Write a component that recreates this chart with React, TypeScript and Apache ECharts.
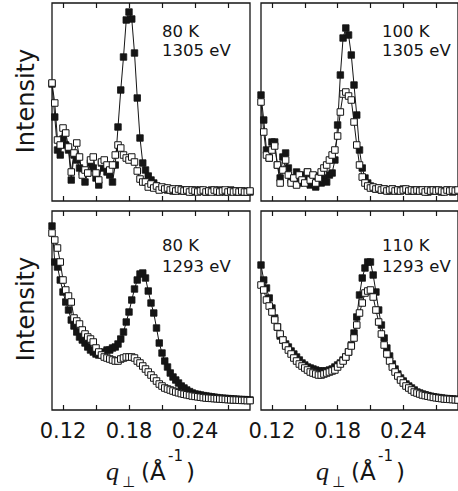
import React, { useEffect, useRef } from "react";
import * as echarts from "echarts";

// momentum transfer q_perp (1/Å), shared by all panels
const q = [
  0.11, 0.1125, 0.115, 0.1175, 0.12, 0.1225, 0.125, 0.1275, 0.13, 0.1325,
  0.135, 0.1375, 0.14, 0.1425, 0.145, 0.1475, 0.15, 0.1525, 0.155, 0.1575,
  0.16, 0.1625, 0.165, 0.1675, 0.17, 0.1725, 0.175, 0.1775, 0.18, 0.1825,
  0.185, 0.1875, 0.19, 0.1925, 0.195, 0.1975, 0.2, 0.2025, 0.205, 0.2075,
  0.21, 0.2125, 0.215, 0.2175, 0.22, 0.2225, 0.225, 0.2275, 0.23, 0.2325,
  0.235, 0.2375, 0.24, 0.2425, 0.245, 0.2475, 0.25, 0.2525, 0.255, 0.2575,
  0.26, 0.2625, 0.265, 0.2675, 0.27, 0.2725, 0.275, 0.2775, 0.28, 0.2825,
  0.285, 0.2875, 0.29,
];

// 80 K, 1305 eV
const k80e1305Filled = [
  58.5, 42, 25.5, 23, 31, 28, 25.5, 10.5, 23, 20.5,
  16.5, 14.5, 9.5, 14, 19, 16.5, 11.5, 8, 19, 16.5,
  14.5, 13, 9.5, 18, 37, 55.5, 72, 90.5, 94.5, 91,
  74, 51.5, 31.5, 19, 15.5, 12.5, 10.5, 9, 7.5, 6.5,
  6, 6.5, 5.5, 6, 5, 5.5, 6, 5, 5.5, 5,
  5.5, 4.5, 5.5, 5, 5.5, 5, 4.5, 5, 5.5, 5,
  4.5, 5.5, 5, 4.5, 5, 5.5, 5, 4.5, 5, 4.5,
  5, 4.5, 4.5,
];
const k80e1305Open = [
  59, 49, 30.5, 28, 36.5, 34, 27, 14.5, 24, 29,
  22, 13, 15.5, 14, 20.5, 22, 14, 10.5, 19.5, 20.5,
  18, 15.5, 18, 23, 28, 26.5, 23, 21.5, 20.5, 22,
  19.5, 15, 11, 9.5, 9.5, 7, 8.5, 6.5, 7.5, 5.5,
  7, 6, 6.5, 5.5, 6, 5, 6, 5.5, 5, 5.5,
  4.5, 5.5, 5, 4.5, 5, 5.5, 4.5, 5, 4.5, 5.5,
  5, 4.5, 5, 5.5, 4.5, 5, 4.5, 5, 4.5, 5,
  4.5, 4.5, 5,
];

// 100 K, 1305 eV
const k100e1305Filled = [
  53, 40.5, 25.5, 21.5, 29.5, 29.5, 18, 11.5, 22, 24,
  16.5, 10.5, 11.5, 14.5, 9, 13, 10.5, 14.5, 8, 10.5,
  7, 12.5, 9, 11.5, 9.5, 13, 14, 20.5, 38, 63,
  81.5, 86.5, 83, 73, 58, 43, 25.5, 16.5, 11.5, 9,
  7.5, 6.5, 6, 6.5, 5.5, 6, 5.5, 5, 6, 5.5,
  5, 5.5, 6, 5.5, 5, 5.5, 5, 5.5, 5, 5.5,
  5, 4.5, 5.5, 5, 5.5, 5, 4.5, 5, 5.5, 5,
  4.5, 5, 5,
];
const k100e1305Open = [
  49.5, 34.5, 23, 21.5, 25.5, 27.5, 18, 9, 15.5, 20.5,
  13, 9, 11.5, 8, 13, 10.5, 9, 14.5, 10.5, 13,
  9, 11.5, 14.5, 16.5, 18, 20.5, 23, 25.5, 32.5, 44.5,
  53.5, 54.5, 52.5, 50.5, 39.5, 28, 18, 12, 9, 7.5,
  6.5, 7, 6, 6.5, 5.5, 6, 5, 5.5, 6, 5,
  5.5, 5, 5.5, 6, 5, 5.5, 5, 5.5, 5, 5.5,
  4.5, 5.5, 5, 5.5, 5, 5.5, 5, 4.5, 5.5, 5,
  5.5, 5, 5.5,
];

// 80 K, 1293 eV
const k80e1293Filled = [
  92, 74, 71.5, 65, 59, 54, 50, 45, 42, 39,
  36.5, 35, 33.5, 31.5, 30, 29, 28, 27.5, 28.5, 29,
  30, 30, 31, 31.5, 33, 35.5, 39, 44, 49, 55,
  60.5, 65, 68, 68.5, 66, 59.5, 53.5, 48.5, 41, 33.5,
  28.5, 24.5, 21.5, 18.5, 16.5, 15, 13.5, 12, 11, 10,
  9.2, 8.5, 8, 7.8, 7.5, 7.2, 7, 6.8, 6.6, 6.4,
  6.2, 6, 5.9, 5.8, 5.7, 5.6, 5.5, 5.4, 5.3, 5.2,
  5.2, 5.1, 5,
];
const k80e1293Open = [
  88.5, 85, 81, 74, 65, 60, 57, 54, 46, 44.5,
  43, 40, 38, 36.5, 35.5, 34, 31, 29, 27.5, 26.5,
  26, 25.5, 25, 24.5, 24.5, 25.5, 26, 26.5, 26.5, 26.5,
  26, 24.5, 23.5, 22, 20.5, 19, 17.5, 16, 14.5, 13,
  12, 11, 10.5, 10, 9.5, 9, 8.6, 8.2, 7.9, 7.6,
  7.3, 7, 6.8, 6.6, 6.4, 6.2, 6, 5.9, 5.8, 5.7,
  5.6, 5.5, 5.4, 5.3, 5.2, 5.1, 5, 5, 4.9, 4.8,
  4.8, 4.7, 4.7,
];

// 110 K, 1293 eV
const k110e1293Filled = [
  72.5, 65, 61, 56, 51, 46, 41.5, 37, 35, 33,
  31.5, 29.5, 28, 26.5, 25, 23.5, 22.5, 21.5, 21, 20.5,
  20, 19.5, 19.5, 19.5, 19.5, 20, 20.5, 21.5, 22.5, 23.5,
  25, 26.5, 29, 32.5, 38.5, 46.5, 57.5, 66, 71, 74,
  74, 67.5, 59, 50, 42.5, 36, 31, 27, 23, 20.5,
  18, 16, 14.5, 13, 12, 11, 10, 9, 8.5, 8,
  7.6, 7.2, 6.9, 6.6, 6.4, 6.2, 6, 5.8, 5.7, 5.6,
  5.5, 5.4, 5.3,
];
const k110e1293Open = [
  62.5, 60, 55, 52, 49, 45, 41.5, 38, 35, 32,
  30, 28, 26, 24.5, 23, 22, 21, 20, 19, 18.5,
  18, 17.5, 17.5, 18, 18.5, 19, 19.5, 20, 21.5, 23,
  24.5, 26.5, 29, 32, 36, 42.5, 48.5, 53.5, 58.5, 59.5,
  60, 56.5, 50, 44, 38, 32.5, 28, 24.5, 21.5, 19,
  17, 15, 13.5, 12, 11, 10, 9, 8.5, 8, 7.5,
  7.2, 6.9, 6.6, 6.3, 6.1, 5.9, 5.7, 5.5, 5.4, 5.3,
  5.2, 5.1, 5,
];

const tickValues = [0.12, 0.15, 0.18, 0.21, 0.24, 0.27];
const labelValues = [0.12, 0.18, 0.24];

const panels = [
  { t: "80 K", e: "1305 eV", filled: k80e1305Filled, open: k80e1305Open, left: 52, top: 3, width: 198, height: 198, ymax: 99, labels: false },
  { t: "100 K", e: "1305 eV", filled: k100e1305Filled, open: k100e1305Open, left: 261, top: 3, width: 199, height: 198, ymax: 99, labels: false },
  { t: "80 K", e: "1293 eV", filled: k80e1293Filled, open: k80e1293Open, left: 52, top: 211, width: 198, height: 199, ymax: 99.5, labels: true },
  { t: "110 K", e: "1293 eV", filled: k110e1293Filled, open: k110e1293Open, left: 261, top: 211, width: 199, height: 199, ymax: 99.5, labels: true },
];

const SANS = '"DejaVu Sans", sans-serif';
const INK = "#151515";

function buildOption() {
  const grid: any[] = [];
  const xAxis: any[] = [];
  const yAxis: any[] = [];
  const series: any[] = [];
  const graphic: any[] = [];

  panels.forEach((p, i) => {
    grid.push({
      left: p.left, top: p.top, width: p.width, height: p.height,
      show: true, borderColor: INK, borderWidth: 1.3, backgroundColor: "transparent",
    });
    const baseX = {
      type: "value", gridIndex: i, min: 0.11, max: 0.29,
      axisLine: { show: false }, splitLine: { show: false },
      axisTick: { show: true, inside: true, length: 5, customValues: tickValues, lineStyle: { color: INK, width: 1.2 } },
    };
    xAxis.push({
      ...baseX, position: "bottom",
      axisLabel: {
        show: p.labels, customValues: labelValues, margin: 21, verticalAlign: "middle",
        color: INK, fontSize: 21, fontFamily: SANS,
        formatter: (v: number) => v.toFixed(2),
      },
    });
    xAxis.push({ ...baseX, position: "top", axisLabel: { show: false } });
    yAxis.push({
      type: "value", gridIndex: i, min: 0, max: p.ymax,
      axisLine: { show: false }, axisTick: { show: false }, axisLabel: { show: false }, splitLine: { show: false },
    });
    const lineBase = {
      type: "line", xAxisIndex: i * 2, yAxisIndex: i, symbol: "rect", symbolSize: 6.5,
      lineStyle: { color: INK, width: 1 }, clip: true, z: 2,
    };
    series.push({
      ...lineBase, name: p.t + " " + p.e + " filled",
      data: q.map((x, k) => [x, p.filled[k]]),
      itemStyle: { color: INK, borderColor: INK, borderWidth: 0.8 },
    });
    series.push({
      ...lineBase, name: p.t + " " + p.e + " open", z: 3,
      data: q.map((x, k) => [x, p.open[k]]),
      itemStyle: { color: "#ffffff", borderColor: INK, borderWidth: 1 },
    });
  });

  const annot = [
    { x: 162, y1: 31, y2: 50.5, p: panels[0] },
    { x: 382, y1: 31, y2: 50.5, p: panels[1] },
    { x: 162, y1: 245.5, y2: 266, p: panels[2] },
    { x: 382, y1: 245, y2: 266.5, p: panels[3] },
  ];
  annot.forEach((a) => {
    graphic.push({ type: "text", x: a.x, y: a.y1, style: { text: a.p.t, fill: INK, fontSize: 16.5, fontFamily: SANS, align: "left", verticalAlign: "middle" } });
    graphic.push({ type: "text", x: a.x, y: a.y2, style: { text: a.p.e, fill: INK, fontSize: 16.5, fontFamily: SANS, align: "left", verticalAlign: "middle" } });
  });

  [101, 309].forEach((cy) => {
    graphic.push({
      type: "text", x: 26, y: cy, rotation: Math.PI / 2,
      style: { text: "Intensity", fill: INK, fontSize: 24, fontFamily: SANS, align: "center", verticalAlign: "middle" },
    });
  });

  [0, 210].forEach((dx) => {
    graphic.push({ type: "text", x: 106 + dx, y: 471, style: { text: "q", fill: INK, fontSize: 26, fontStyle: "italic", fontFamily: '"Liberation Serif", serif', align: "left", verticalAlign: "middle" } });
    graphic.push({ type: "text", x: 122 + dx, y: 482, style: { text: "⊥", fill: INK, fontSize: 15, fontFamily: SANS, align: "left", verticalAlign: "middle" } });
    graphic.push({ type: "text", x: 141 + dx, y: 472, style: { text: "(Å", fill: INK, fontSize: 23, fontFamily: SANS, align: "left", verticalAlign: "middle" } });
    graphic.push({ type: "text", x: 168 + dx, y: 456, style: { text: "-1", fill: INK, fontSize: 15, fontFamily: SANS, align: "left", verticalAlign: "middle" } });
    graphic.push({ type: "text", x: 186 + dx, y: 472, style: { text: ")", fill: INK, fontSize: 23, fontFamily: SANS, align: "left", verticalAlign: "middle" } });
  });

  return { animation: false, backgroundColor: "#ffffff", grid, xAxis, yAxis, series, graphic };
}

export default function App() {
  const ref = useRef<HTMLDivElement>(null);
  useEffect(() => {
    if (!ref.current) return;
    const chart = echarts.init(ref.current, undefined, { renderer: "svg" });
    chart.setOption(buildOption() as any);
    return () => chart.dispose();
  }, []);
  return (
    <div
      ref={ref}
      style={{ position: "absolute", left: 0, top: 0, width: 458, height: 491 }}
    />
  );
}
